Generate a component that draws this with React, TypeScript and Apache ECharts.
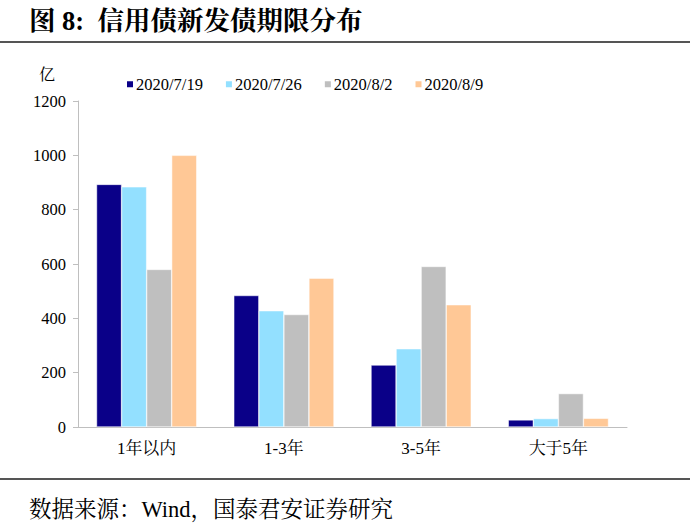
import React, { useEffect, useRef } from "react";
import * as echarts from "echarts";

const categories = ["1年以内", "1-3年", "3-5年", "大于5年"];
const seriesNames = ["2020/7/19", "2020/7/26", "2020/8/2", "2020/8/9"];
const s0719 = [893, 484, 228, 26];
const s0726 = [884, 428, 288, 31];
const s0802 = [580, 414, 591, 123];
const s0809 = [1000, 548, 450, 32];
const colors = ["#0A0088", "#93E0FF", "#BFBFBF", "#FFC896"];
const yTicks = [0, 200, 400, 600, 800, 1000, 1200];

const serif = '"Liberation Serif", "Noto Serif CJK SC", "Noto Sans CJK SC", serif';

export default function App() {
  const ref = useRef<HTMLDivElement>(null);
  useEffect(() => {
    if (!ref.current) return;
    const chart = echarts.init(ref.current, undefined, { renderer: "svg" });
    const data = [s0719, s0726, s0802, s0809];
    chart.setOption({
      animation: false,
      backgroundColor: "#ffffff",
      textStyle: { fontFamily: serif },
      legend: {
        data: seriesNames,
        left: 120,
        top: 71,
        itemWidth: 8,
        itemHeight: 8,
        itemGap: 21,
        icon: "rect",
        textStyle: { fontSize: 16.5, color: "#000", fontFamily: serif, padding: [0, 0, 0, -3] },
      },
      grid: { left: 78, right: 73, top: 101, bottom: 96, containLabel: false },
      xAxis: {
        type: "category",
        data: categories,
        axisLine: { lineStyle: { color: "#BFBFBF", width: 1 } },
        axisTick: { show: false },
        axisLabel: { fontSize: 17, color: "#000", margin: 13, fontFamily: serif },
      },
      yAxis: {
        type: "value",
        min: yTicks[0],
        max: yTicks[yTicks.length - 1],
        interval: 200,
        splitLine: { show: false },
        axisLine: { show: true, lineStyle: { color: "#BFBFBF", width: 1 } },
        axisTick: { show: true, length: 5, lineStyle: { color: "#BFBFBF" } },
        axisLabel: {
          fontSize: 16.5,
          color: "#000",
          margin: 12,
          fontFamily: serif,
          formatter: (v: number) => String(v),
        },
      },
      series: seriesNames.map((name, i) => ({
        name,
        type: "bar",
        data: data[i],
        barGap: "0%",
        barCategoryGap: "27%",
        itemStyle: { color: colors[i], borderColor: "#ffffff", borderWidth: 0.5 },
      })),
      graphic: [
        {
          type: "text",
          left: 29,
          top: 8,
          style: { text: "图 8:  信用债新发债期限分布", fontSize: 26.5, fontWeight: "bold", fill: "#000", fontFamily: serif },
        },
        {
          type: "line",
          shape: { x1: 0, y1: 42, x2: 690, y2: 42 },
          style: { stroke: "#555", lineWidth: 2 },
        },
        {
          type: "text",
          left: 39,
          top: 66,
          style: { text: "亿", fontSize: 16, fill: "#000", fontFamily: serif },
        },
        {
          type: "line",
          shape: { x1: 0, y1: 479, x2: 690, y2: 479 },
          style: { stroke: "#555", lineWidth: 2 },
        },
        {
          type: "text",
          left: 29,
          top: 498,
          style: { text: "数据来源：Wind，国泰君安证券研究", fontSize: 22.5, fill: "#000", fontFamily: serif },
        },
      ],
    });
    return () => chart.dispose();
  }, []);
  return <div ref={ref} style={{ position: "fixed", left: 0, top: 0, width: 700, height: 523 }} />;
}
